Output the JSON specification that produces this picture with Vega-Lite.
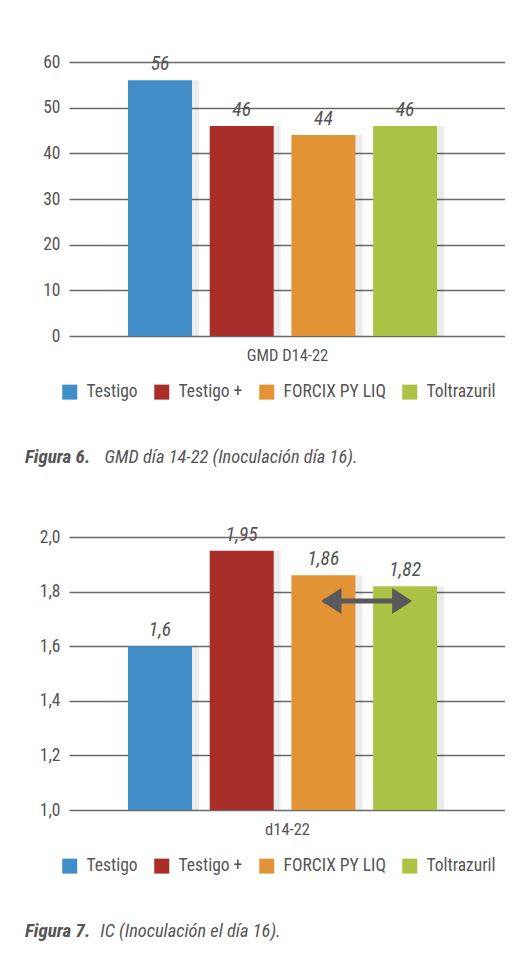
{
  "$schema": "https://vega.github.io/schema/vega-lite/v6.json",
  "background": "white",
  "padding": {"top": 53, "left": 25, "right": 0, "bottom": 0},
  "spacing": 57,
  "config": {
    "locale": {"number": {"decimal": ",", "thousands": ".", "grouping": [3], "currency": ["", " €"]}},
    "font": "Roboto Condensed, Liberation Sans Narrow, Roboto, sans-serif",
    "view": {"stroke": null},
    "axis": {
      "labelFont": "Roboto Condensed, Liberation Sans Narrow, Roboto, sans-serif",
      "titleFont": "Roboto Condensed, Liberation Sans Narrow, Roboto, sans-serif",
      "labelFontSize": 17.5,
      "titleFontSize": 16.5,
      "labelColor": "#555555",
      "titleColor": "#555555",
      "titleFontWeight": "normal"
    },
    "axisY": {"domain": false, "ticks": false, "labelPadding": 9, "gridColor": "#6a6a6a", "gridWidth": 1.6, "gridOpacity": 1},
    "axisX": {"labels": false, "ticks": false, "domain": false, "grid": false, "titlePadding": 11},
    "legend": {
      "labelFont": "Roboto Condensed, Liberation Sans Narrow, Roboto, sans-serif",
      "labelFontSize": 17.5,
      "labelColor": "#555555",
      "symbolType": "square",
      "symbolSize": 225,
      "symbolStrokeWidth": 0,
      "symbolOpacity": 1,
      "labelOffset": 8,
      "columnPadding": 15
    },
    "title": {
      "orient": "bottom",
      "anchor": "start",
      "frame": "group",
      "offset": 47,
      "dx": -44,
      "font": "Roboto Condensed, Liberation Sans Narrow, Roboto, sans-serif",
      "fontSize": 19,
      "fontStyle": "italic",
      "fontWeight": "bold",
      "color": "#555555",
      "subtitleFont": "Roboto Condensed, Liberation Sans Narrow, Roboto, sans-serif",
      "subtitleFontSize": 18.4,
      "subtitleFontStyle": "italic",
      "subtitleFontWeight": "normal",
      "subtitleColor": "#555555",
      "subtitlePadding": -19
    }
  },
  "datasets": {
    "gmd": [
      {"t": "Testigo", "v": 56},
      {"t": "Testigo +", "v": 46},
      {"t": "FORCIX PY LIQ", "v": 44},
      {"t": "Toltrazuril", "v": 46}
    ],
    "ic": [
      {"t": "Testigo", "v": 1.6},
      {"t": "Testigo +", "v": 1.95},
      {"t": "FORCIX PY LIQ", "v": 1.86},
      {"t": "Toltrazuril", "v": 1.82}
    ],
    "arrow": [
      {"from": "FORCIX PY LIQ", "to": "Toltrazuril", "y": 1.766}
    ]
  },
  "resolve": {
    "legend": {"color": "independent"},
    "scale": {"color": "independent", "x": "independent", "y": "independent"}
  },
  "vconcat": [
    {
      "width": 436,
      "height": 274,
      "data": {"name": "gmd"},
      "title": {"text": "Figura 6.", "subtitle": "\u200b\u00a0\u00a0\u00a0\u00a0\u00a0\u00a0\u00a0\u00a0\u00a0\u00a0\u00a0\u00a0\u00a0\u00a0\u00a0\u00a0\u00a0\u00a0\u00a0GMD día 14-22 (Inoculación día 16)."},
      "encoding": {
        "x": {
          "field": "t", "type": "nominal",
          "scale": {"domain": ["Testigo", "Testigo +", "FORCIX PY LIQ", "Toltrazuril"], "paddingInner": 0.2166, "paddingOuter": 0.7766, "align": 0.465},
          "axis": {"title": "GMD D14-22"}
        }
      },
      "layer": [
        {
          "mark": {"type": "bar", "fill": "black", "fillOpacity": 0.075, "xOffset": 7},
          "encoding": {
            "y": {"field": "v", "type": "quantitative", "scale": {"domain": [0, 60], "nice": false}, "axis": {"values": [0, 10, 20, 30, 40, 50, 60], "title": null}}
          }
        },
        {
          "mark": {"type": "bar"},
          "encoding": {
            "y": {"field": "v", "type": "quantitative"},
            "color": {
              "field": "t", "type": "nominal",
              "scale": {"domain": ["Testigo", "Testigo +", "FORCIX PY LIQ", "Toltrazuril"], "range": ["#418dc8", "#a82f29", "#e29335", "#aac345"]},
              "legend": {"orient": "none", "legendX": -8, "legendY": 321, "direction": "horizontal", "columns": 4, "title": null}
            }
          }
        },
        {
          "mark": {"type": "text", "dy": -10, "baseline": "alphabetic", "fontStyle": "italic", "fontSize": 19.5, "color": "#555555"},
          "encoding": {
            "y": {"field": "v", "type": "quantitative"},
            "text": {"field": "v", "type": "quantitative", "format": "d"}
          }
        }
      ]
    },
    {
      "width": 436,
      "height": 273,
      "title": {"text": "Figura 7.", "subtitle": "\u200b\u00a0\u00a0\u00a0\u00a0\u00a0\u00a0\u00a0\u00a0\u00a0\u00a0\u00a0\u00a0\u00a0\u00a0\u00a0\u00a0\u00a0\u00a0IC (Inoculación el día 16)."},
      "layer": [
        {
          "data": {"name": "ic"},
          "mark": {"type": "bar", "fill": "black", "fillOpacity": 0.075, "xOffset": 7},
          "encoding": {
            "x": {
              "field": "t", "type": "nominal",
              "scale": {"domain": ["Testigo", "Testigo +", "FORCIX PY LIQ", "Toltrazuril"], "paddingInner": 0.2166, "paddingOuter": 0.7766, "align": 0.465},
              "axis": {"title": "d14-22"}
            },
            "y": {"field": "v", "type": "quantitative", "scale": {"domain": [1, 2], "nice": false, "zero": false}, "axis": {"values": [1, 1.2, 1.4, 1.6, 1.8, 2], "format": ".1f", "title": null}},
            "y2": {"datum": 1}
          }
        },
        {
          "data": {"name": "ic"},
          "mark": {"type": "bar"},
          "encoding": {
            "x": {"field": "t", "type": "nominal", "axis": {"title": "d14-22"}},
            "y": {"field": "v", "type": "quantitative"},
            "y2": {"datum": 1},
            "color": {
              "field": "t", "type": "nominal",
              "scale": {"domain": ["Testigo", "Testigo +", "FORCIX PY LIQ", "Toltrazuril"], "range": ["#418dc8", "#a82f29", "#e29335", "#aac345"]},
              "legend": {"orient": "none", "legendX": -8, "legendY": 320, "direction": "horizontal", "columns": 4, "title": null}
            }
          }
        },
        {
          "data": {"name": "ic"},
          "mark": {"type": "text", "dy": -10, "baseline": "alphabetic", "fontStyle": "italic", "fontSize": 19.5, "color": "#555555"},
          "encoding": {
            "x": {"field": "t", "type": "nominal", "axis": {"title": "d14-22"}},
            "y": {"field": "v", "type": "quantitative"},
            "text": {"field": "v", "type": "quantitative", "format": ".2~f"}
          }
        },
        {
          "data": {"name": "arrow"},
          "mark": {"type": "rule", "color": "#58595b", "strokeWidth": 5},
          "encoding": {
            "x": {"field": "from", "type": "nominal", "axis": {"title": "d14-22"}},
            "x2": {"field": "to"},
            "y": {"field": "y", "type": "quantitative"}
          }
        },
        {
          "data": {"name": "arrow"},
          "mark": {"type": "point", "shape": "M-1,0L1,-1.3L1,1.3Z", "size": 400, "filled": true, "color": "#58595b", "opacity": 1, "xOffset": 8},
          "encoding": {
            "x": {"field": "from", "type": "nominal", "axis": {"title": "d14-22"}},
            "y": {"field": "y", "type": "quantitative"}
          }
        },
        {
          "data": {"name": "arrow"},
          "mark": {"type": "point", "shape": "M1,0L-1,-1.3L-1,1.3Z", "size": 400, "filled": true, "color": "#58595b", "opacity": 1, "xOffset": -3},
          "encoding": {
            "x": {"field": "to", "type": "nominal", "axis": {"title": "d14-22"}},
            "y": {"field": "y", "type": "quantitative"}
          }
        }
      ]
    }
  ]
}
